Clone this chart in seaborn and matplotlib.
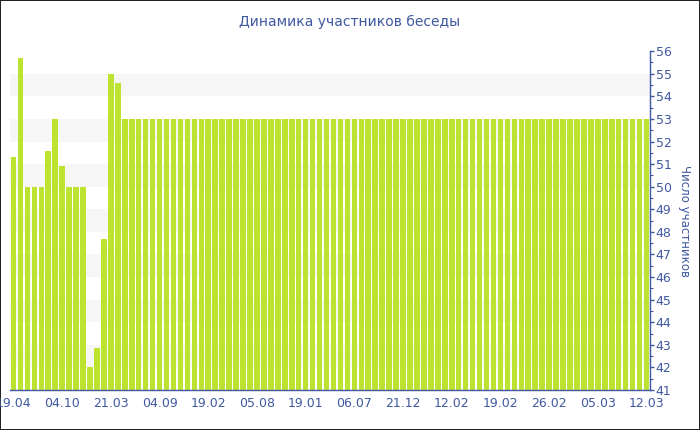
import numpy as np
import pandas as pd
import matplotlib
matplotlib.use('Agg')
import matplotlib.pyplot as plt
from matplotlib.ticker import MultipleLocator
import seaborn as sns

# values
first_values = [51.3, 55.7, 50, 50, 50, 51.6, 53, 50.9, 50, 50, 50, 42, 42.85, 47.7, 55, 54.6]
flat_value = 53
flat_count = 76
participants = first_values + [flat_value] * flat_count

tick_labels = ['19.04', '04.10', '21.03', '04.09', '19.02', '05.08', '19.01',
               '06.07', '21.12', '12.02', '19.02', '26.02', '05.03', '12.03']
tick_step = 7

df = pd.DataFrame({'idx': list(range(len(participants))), 'count': participants})

blue = '#3f58a0'
bar_color = '#bde331'

sns.set_style('white')
plt.rcParams['font.family'] = ['DejaVu Sans']

fig = plt.figure(figsize=(7, 4.3), dpi=100)
fig.patch.set_edgecolor('#222222')
fig.patch.set_linewidth(1.2)
ax = fig.add_axes([0.0143, 0.093, 0.9143, 0.788])

# light striped background bands
for lo in range(42, 56, 2):
    ax.axhspan(lo, lo + 1, color='#f6f6f6', zorder=0, lw=0)

sns.barplot(data=df, x='idx', y='count', color=bar_color, saturation=1,
            width=0.8, linewidth=0, ax=ax, zorder=2)

ax.set_ylim(41, 56)
ax.set_xlim(-0.5, len(participants) - 0.5)

ax.yaxis.tick_right()
ax.yaxis.set_label_position('right')
ax.set_yticks(range(41, 57))
ax.yaxis.set_minor_locator(MultipleLocator(0.5))
ax.set_xticks(range(0, len(participants), tick_step))
ax.set_xticklabels(tick_labels)

ax.tick_params(axis='both', colors=blue, labelsize=9, length=3, width=1, pad=1)
ax.tick_params(axis='y', which='minor', colors=blue, length=2, width=0.8)
ax.tick_params(axis='x', pad=2)

for side in ['left', 'top']:
    ax.spines[side].set_visible(False)
for side in ['right', 'bottom']:
    ax.spines[side].set_color(blue)
    ax.spines[side].set_linewidth(1)

ax.set_xlabel('')
ax.set_ylabel('Число участников', color=blue, fontsize=8.5, rotation=270, labelpad=14)
fig.suptitle('Динамика участников беседы', color=blue, fontsize=10, y=0.965)

fig.savefig('out.png', dpi=100)
